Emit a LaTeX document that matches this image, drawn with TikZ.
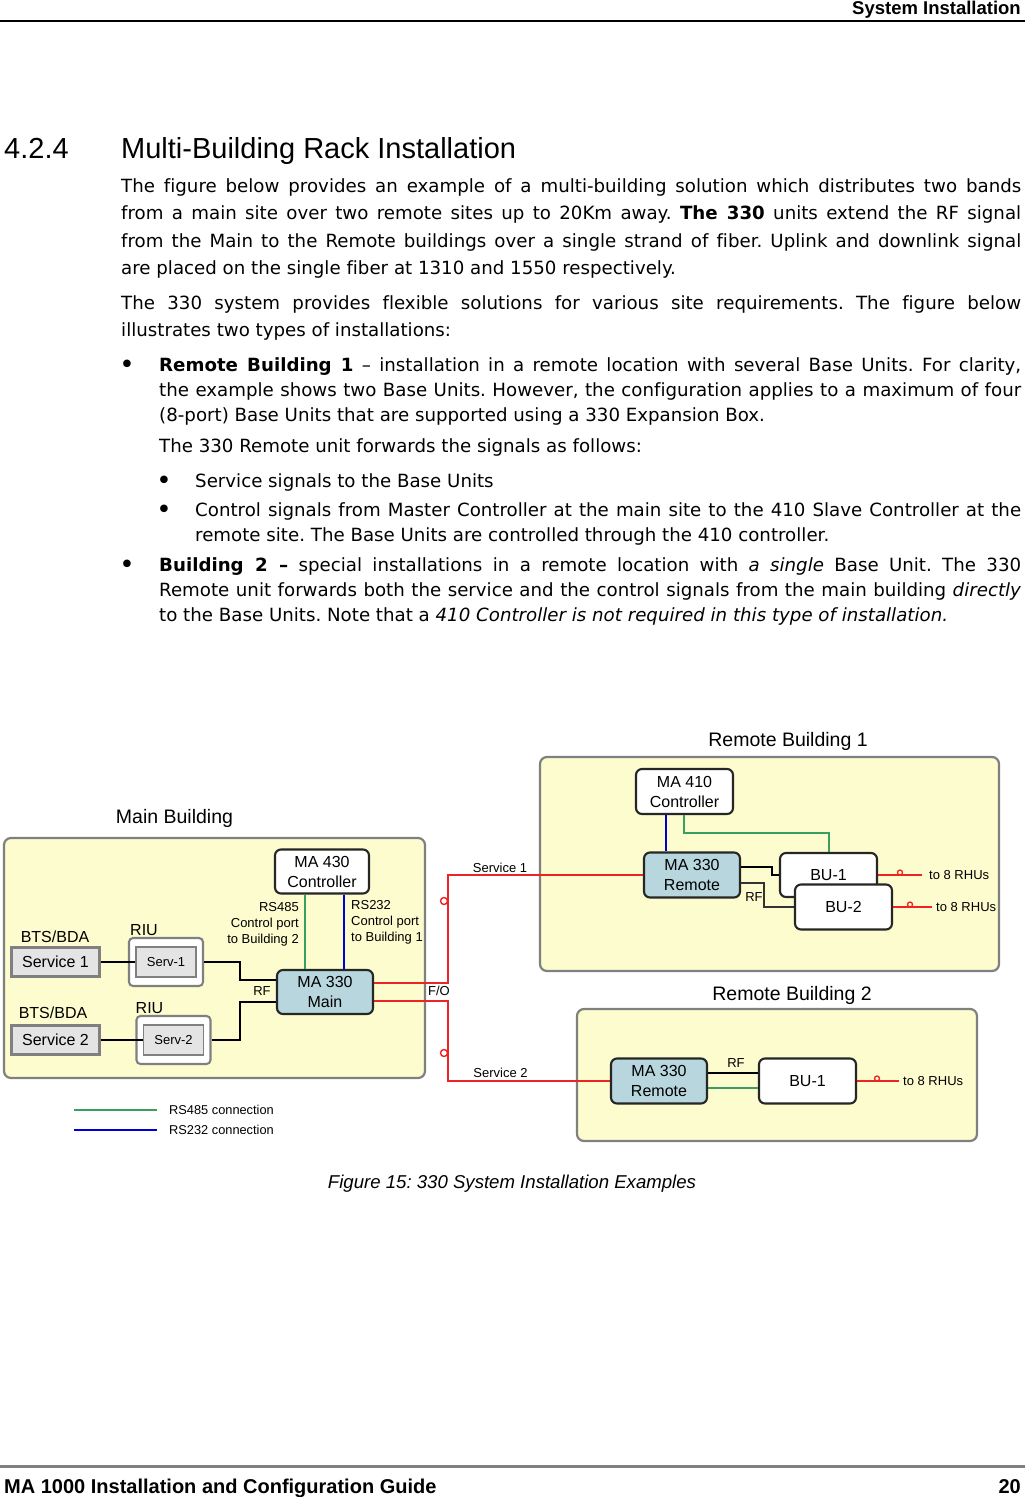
\documentclass[tikz,border=0pt]{standalone}
\usepackage{fontspec}
\setmainfont[Ligatures=NoCommon]{DejaVu Sans}
\newfontfamily\arialfont{Liberation Sans}
\usepackage{xcolor}
\usepackage{tikz}

\definecolor{bldgfill}{RGB}{252,252,206}
\definecolor{bldgline}{RGB}{128,128,128}
\definecolor{unitblue}{RGB}{183,214,222}
\definecolor{svcgray}{RGB}{228,228,228}
\definecolor{fored}{RGB}{238,36,36}
\definecolor{rsgreen}{RGB}{56,158,98}
\definecolor{rsblue}{RGB}{0,0,214}

\newcommand{\dfont}[2]{\arialfont\fontsize{#1}{#2}\selectfont}
\newcommand{\bodyfont}{\fontsize{18.2}{22}\selectfont}
\newcommand{\jline}[2]{\makebox[#1][s]{#2}}
\frenchspacing

\tikzset{
  bldg/.style={draw=bldgline, fill=bldgfill, line width=2.2pt, rounded corners=7pt, inner sep=0pt},
  unitbox/.style={draw=black!85, fill=white, line width=2.1pt, rounded corners=6pt, inner sep=0pt, align=center, font=\dfont{16}{20}},
  unit330/.style={unitbox, fill=unitblue},
  svcbox/.style={draw=bldgline, fill=svcgray, line width=2.1pt, inner sep=0pt, minimum width=88pt, minimum height=29pt, font=\dfont{16}{20}},
  riubox/.style={draw=bldgline, fill=white, line width=2.1pt, rounded corners=4pt, inner sep=0pt, minimum width=74pt, minimum height=48pt},
  servbox/.style={draw=bldgline, fill=svcgray, line width=1.8pt, inner sep=0pt, minimum width=60pt, minimum height=30pt, font=\dfont{13}{16}},
  lbl/.style={inner sep=0pt, font=\dfont{16}{20}},
  bigl/.style={inner sep=0pt, font=\dfont{19.5}{24}},
  smalltxt/.style={inner sep=0pt, font=\dfont{13}{16}},
  rfline/.style={draw=black, line width=1.6pt},
  foline/.style={draw=fored, line width=1.7pt},
  rs485/.style={draw=rsgreen, line width=2.2pt},
  rs232/.style={draw=rsblue, line width=2.6pt},
  foconn/.style={circle, draw=fored, line width=1.4pt, inner sep=0pt, minimum size=7pt},
  rhuconn/.style={circle, draw=fored, line width=1.3pt, inner sep=0pt, minimum size=5pt},
  txt/.style={anchor=base west, inner sep=0pt, font=\bodyfont},
  bullet/.style={anchor=base, inner sep=0pt, font=\fontsize{26}{26}\selectfont},
}

\begin{document}
\begin{tikzpicture}[x=1pt,y=-1pt]
  \useasboundingbox (0,0) rectangle (1025,1497);
  \fill[white] (0,0) rectangle (1025,1497);
  % header
  \node[anchor=base east, inner sep=0pt, font=\arialfont\bfseries\fontsize{18.5}{22}\selectfont] (hdr) at (1021,14.5) {System Installation};
  \draw[line width=1.5pt] (0,21) -- (1025,21);
  % section title
  \node[anchor=base west, inner sep=0pt, font=\dfont{29}{34}] (secnum) at (4,158) {4.2.4};
  \node[anchor=base west, inner sep=0pt, font=\dfont{29}{34}] (sectitle) at (121,158) {Multi-Building Rack Installation};
  % body text
  \node[txt] (p1a) at (121,192) {\jline{900pt}{The figure below provides an example of a multi-building solution which distributes two bands}};
  \node[txt] (p1b) at (121,219) {\jline{900pt}{from a main site over two remote sites up to 20Km away. \textbf{The 330} units extend the RF signal}};
  \node[txt] (p1c) at (121,247) {\jline{900pt}{from the Main to the Remote buildings over a single strand of fiber. Uplink and downlink signal}};
  \node[txt] (p1d) at (121,274) {are placed on the single fiber at 1310 and 1550 respectively.};
  \node[txt] (p2a) at (121,309) {\jline{900pt}{The 330 system provides flexible solutions for various site requirements. The figure below}};
  \node[txt] (p2b) at (121,336) {illustrates two types of installations:};
  \node[bullet] (b1) at (127,373) {•};
  \node[txt] (b1a) at (159,371) {\jline{862pt}{\textbf{Remote Building 1} – installation in a remote location with several Base Units. For clarity,}};
  \node[txt] (b1b) at (159,396) {\jline{862pt}{the example shows two Base Units. However, the configuration applies to a maximum of four}};
  \node[txt] (b1c) at (159,421) {(8-port) Base Units that are supported using a 330 Expansion Box.};
  \node[txt] (b1d) at (159,452) {The 330 Remote unit forwards the signals as follows:};
  \node[bullet] (s1) at (164,489) {•};
  \node[txt] (s1a) at (195,487) {Service signals to the Base Units};
  \node[bullet] (s2) at (164,518) {•};
  \node[txt] (s2a) at (195,516) {\jline{826pt}{Control signals from Master Controller at the main site to the 410 Slave Controller at the}};
  \node[txt] (s2b) at (195,541) {remote site. The Base Units are controlled through the 410 controller.};
  \node[bullet] (b2) at (127,573) {•};
  \node[txt] (b2a) at (159,571) {\jline{862pt}{\textbf{Building 2 –} special installations in a remote location with \textit{a single} Base Unit. The 330}};
  \node[txt] (b2b) at (159,596) {\jline{862pt}{Remote unit forwards both the service and the control signals from the main building \textit{directly}}};
  \node[txt] (b2c) at (159,621) {to the Base Units. Note that a \textit{410 Controller is not required in this type of installation.}};

  % buildings
  \node[bldg, minimum width=421pt, minimum height=240pt] (mainbldg) at (214.5,958) {};
  \node[bigl] (mainlbl) at (174.5,818) {Main Building};
  \node[bldg, minimum width=459pt, minimum height=214pt] (rb1) at (769.5,864) {};
  \node[bigl] (rb1lbl) at (788,741) {Remote Building 1};
  \node[bldg, minimum width=400pt, minimum height=132pt] (rb2) at (777,1075) {};
  \node[bigl] (rb2lbl) at (792,995) {Remote Building 2};

  % main building
  \node[unitbox, minimum width=94pt, minimum height=44pt] (ctl430) at (322,871.5) {MA 430\\Controller};
  \node[unit330, minimum width=96pt, minimum height=44pt] (main330) at (325,992) {MA 330\\Main};
  \node[svcbox] (svc1) at (55.5,962) {Service 1};
  \node[svcbox] (svc2) at (55.5,1040) {Service 2};
  \node[lbl] (bts1) at (55,937) {BTS/BDA};
  \node[lbl] (bts2) at (53,1013) {BTS/BDA};
  \node[riubox] (riu1) at (166,962) {};
  \node[servbox] (serv1) at (166,962) {Serv-1};
  \node[riubox] (riu2) at (173.5,1040) {};
  \node[servbox] (serv2) at (173.5,1040) {Serv-2};
  \node[lbl] (riu1lbl) at (144,930) {RIU};
  \node[lbl] (riu2lbl) at (149.5,1008) {RIU};
  \node[smalltxt, anchor=east, align=right] (rs485lbl) at (299,924) {RS485\\Control port\\to Building 2};
  \node[smalltxt, anchor=west, align=left] (rs232lbl) at (351,922) {RS232\\Control port\\to Building 1};
  \node[smalltxt] (rflbl1) at (262,991) {RF};
  \node[smalltxt] (folbl) at (439,991) {F/O};

  % remote building 1
  \node[unitbox, minimum width=97pt, minimum height=45pt] (ctl410) at (684.5,791.5) {MA 410\\Controller};
  \node[unit330, minimum width=96pt, minimum height=45pt] (rem1) at (692,875) {MA 330\\Remote};
  \node[unitbox, minimum width=97pt, minimum height=44pt] (bu1) at (828.5,875) {BU-1};
  \node[unitbox, minimum width=97pt, minimum height=45pt] (bu2) at (843.5,907) {BU-2};
  \node[smalltxt] (rflbl2) at (754,897) {RF};
  \node[smalltxt, anchor=west] (rhu1) at (929,875) {to 8 RHUs};
  \node[smalltxt, anchor=west] (rhu2) at (936,907) {to 8 RHUs};
  \node[smalltxt] (svc1lbl) at (500,868) {Service 1};

  % remote building 2
  \node[unit330, minimum width=96pt, minimum height=45pt] (rem2) at (659,1081) {MA 330\\Remote};
  \node[unitbox, minimum width=97pt, minimum height=45pt] (bu3) at (807.5,1081) {BU-1};
  \node[smalltxt] (rflbl3) at (736,1063) {RF};
  \node[smalltxt, anchor=west] (rhu3) at (903,1081) {to 8 RHUs};
  \node[smalltxt] (svc2lbl) at (500.5,1073) {Service 2};

  % connectors
  \node[foconn] (fo1) at (444,901) {};
  \node[foconn] (fo2) at (444,1053) {};
  \node[rhuconn] (rc1) at (900,872.5) {};
  \node[rhuconn] (rc2) at (910,904.5) {};
  \node[rhuconn] (rc3) at (877,1078.5) {};
  \draw[rs485] (305,0 |- ctl430.south) -- (305,0 |- main330.north);
  \draw[rs232] (344,0 |- ctl430.south) -- (344,0 |- main330.north);
  \draw[rfline] (svc1.east) -- (serv1.west);
  \draw[rfline] (svc2.east) -- (serv2.west);
  \draw[rfline] (riu1.east) -| (240,980) -- (240,980 -| main330.west);
  \draw[rfline] (riu2.east) -| (240,1002) -- (240,1002 -| main330.west);
  \draw[foline] (main330.east |- 0,983) -- (448,983) |- (rem1.west);
  \draw[foline] (main330.east |- 0,1001) -- (448,1001) |- (rem2.west);
  \draw[rs232] (666,0 |- ctl410.south) -- (666,0 |- rem1.north);
  \draw[rs485] (684,0 |- ctl410.south) -- (684,833) -| (829,0 |- bu1.north);
  \draw[rfline] (rem1.east |- 0,867) -- (772,867) |- (bu1.west);
  \draw[rfline, draw=black!80] (rem1.east |- 0,883) -- (764,883) |- (bu2.west);
  \draw[foline] (bu1.east) -- ([xshift=-7pt]rhu1.west);
  \draw[foline] (bu2.east) -- ([xshift=-4pt]rhu2.west);
  \draw[rfline] (rem2.east |- 0,1073) -- (bu3.west |- 0,1073);
  \draw[rs485] (rem2.east |- 0,1088) -- (bu3.west |- 0,1088);
  \draw[foline] (bu3.east) -- ([xshift=-4pt]rhu3.west);

  % legend
  \coordinate (leg1a) at (74,1110);
  \coordinate (leg1b) at (157,1110);
  \coordinate (leg2a) at (74,1130);
  \coordinate (leg2b) at (157,1130);
  \draw[rs485] (leg1a) -- (leg1b);
  \draw[rs232] (leg2a) -- (leg2b);
  \node[smalltxt, anchor=west, font=\dfont{12.8}{15}] (leg1) at (169,1110) {RS485 connection};
  \node[smalltxt, anchor=west, font=\dfont{12.8}{15}] (leg2) at (169,1130) {RS232 connection};

  % caption and footer
  \node[anchor=base, inner sep=0pt, font=\arialfont\itshape\fontsize{18.6}{22}\selectfont] (caption) at (512,1188) {Figure 15: 330 System Installation Examples};
  \draw[bldgline, line width=3pt] (0,1466) -- (1025,1466);
  \node[anchor=base west, inner sep=0pt, font=\arialfont\bfseries\fontsize{20}{24}\selectfont] (foot) at (4,1493) {MA 1000 Installation and Configuration Guide};
  \node[anchor=base east, inner sep=0pt, font=\arialfont\bfseries\fontsize{20}{24}\selectfont] (pagenum) at (1021,1493) {20};
\end{tikzpicture}
\end{document}
